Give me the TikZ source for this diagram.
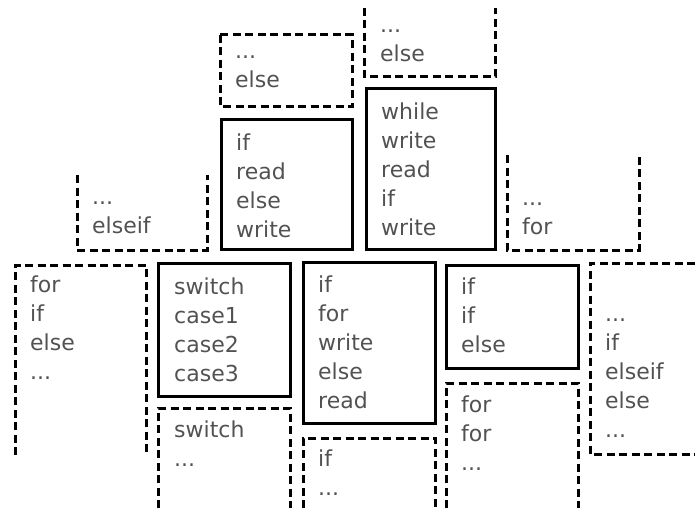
\documentclass[tikz,border=0pt]{standalone}
\usepackage{fontspec}
\setmainfont{DejaVu Sans}
\usepackage{tikz}

\begin{document}
\begin{tikzpicture}[x=1pt, y=-1pt,
            every node/.style = {inner sep=0pt, anchor=south west, align=left,
                                text=black!68, font=\fontsize{22}{29}\selectfont},
            kept/.style = {draw, line width=3pt},
            gap/.style = {draw, line width=3pt, dash pattern=on 8pt off 4.5pt}]
        \useasboundingbox (0,0) rectangle (695,508);
        % top row
        \draw[gap] (220,35) rectangle (352,107);
        \node (elseA) at (235,88) {...\\else};
        \draw[gap] (364,8) -- (364,77) -- (495,77) -- (495,8);
        \node (elseB) at (380,62) {...\\else};
        % middle row
        \draw[gap] (77,175) -- (77,250) -- (207,250) -- (207,175);
        \node (elseif) at (92,234) {...\\elseif};
        \draw[kept] (221,119) rectangle (352,249);
        \node (ifread) at (236,238) {if\\read\\else\\write};
        \draw[kept] (366,89) rectangle (495,249);
        \node (while) at (381,236) {while\\write\\read\\if\\write};
        \draw[gap] (507,155) -- (507,250) -- (639,250) -- (639,155);
        \node (forA) at (522,235) {...\\for};
        % lower row
        \draw[gap] (15,455) -- (15,265) -- (146,265) -- (146,455);
        \node (forif) at (30,380) {for\\if\\else\\...};
        \draw[kept] (158,263) rectangle (290,396);
        \node (switch) at (174,382) {switch\\case1\\case2\\case3};
        \draw[gap] (158,508) -- (158,408) -- (290,408) -- (290,508);
        \node (switchB) at (174,467) {switch\\...};
        \draw[kept] (303,262) rectangle (435,423);
        \node (iffor) at (318,409) {if\\for\\write\\else\\read};
        \draw[gap] (303,508) -- (303,438) -- (435,438) -- (435,508);
        \node (ifB) at (318,496) {if\\...};
        \draw[kept] (446,265) rectangle (578,368);
        \node (ifif) at (461,353) {if\\if\\else};
        \draw[gap] (446,508) -- (446,383) -- (578,383) -- (578,508);
        \node (forB) at (461,471) {for\\for\\...};
        \draw[gap] (695,263) -- (590,263) -- (590,454) -- (695,454);
        \node (elseC) at (605,438) {...\\if\\elseif\\else\\...};
\end{tikzpicture}
\end{document}
